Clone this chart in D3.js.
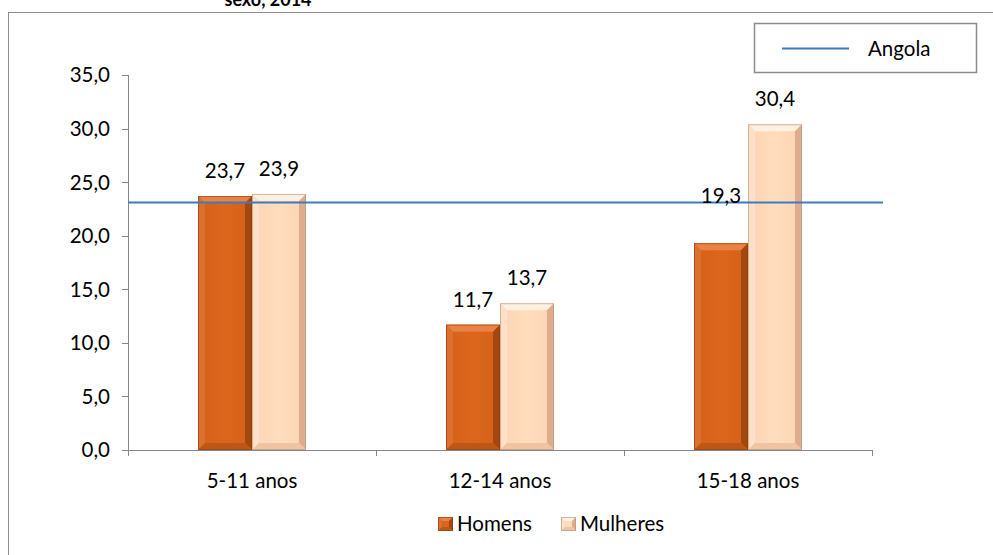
<!DOCTYPE html>
<html><head><meta charset="utf-8">
<script src="https://cdn.jsdelivr.net/npm/d3@7"></script>
<style>
html,body{margin:0;padding:0;background:#fff;}
svg{display:block;font-family:Lato,"Open Sans",sans-serif;}
</style></head>
<body><svg id="c" width="993" height="555"></svg>
<script>
const categories = ["5-11 anos", "12-14 anos", "15-18 anos"];
const seriesNames = ["Homens", "Mulheres"];
const homens = [23.7, 11.7, 19.3];
const mulheres = [23.9, 13.7, 30.4];
const angola = 23.1;
const yTicks = [0, 5, 10, 15, 20, 25, 30, 35];
const titleText = "sexo, 2014";
const lineLabel = "Angola";

const svg = d3.select("#c");
const W = 993, H = 555;
const m = {left:128, right:872, top:75, bottom:450};
const FS = 20.5;

const fmt = v => d3.format(".1f")(v).replace(".", ",");

// outer border
svg.append("rect").attr("x",8.5).attr("y",12.5).attr("width",W).attr("height",H)
  .attr("fill","#fff").attr("stroke","#8c8c8c").attr("stroke-width",1);

// title (only last line visible, cut by the top edge as in the source)
svg.append("text").attr("x",268).attr("y",6).attr("text-anchor","middle")
  .attr("font-weight","bold").attr("font-size",18).text(titleText);

const x0 = d3.scaleBand().domain(categories).range([m.left, m.right]).padding(0);
const y = d3.scaleLinear().domain([0,35]).range([m.bottom, m.top]);

const defs = svg.append("defs");
const styles = {
  Homens:  {main:"#d3621b", top:"#e98244", left:"#dc7031", right:"#a6470f", bottom:"#bd5715", edge:"#8f3c0c"},
  Mulheres:{main:"#fcd4b4", top:"#fff0e0", left:"#fde0c8", right:"#dcae8f", bottom:"#efc4a3", edge:"#b78e74"}
};
Object.entries(styles).forEach(([k,s])=>{
  const g = defs.append("linearGradient").attr("id","g"+k).attr("x1","0").attr("x2","1").attr("y1","0").attr("y2","0");
  g.append("stop").attr("offset","0").attr("stop-color",s.main);
  g.append("stop").attr("offset","0.5").attr("stop-color",d3.color(s.main).brighter(0.12));
  g.append("stop").attr("offset","1").attr("stop-color",s.main);
});

function bevelBar(g, x, yTop, w, h, s, name, bev) {
  const b = Math.min(bev, w/2, h/2);
  const x2 = x + w, y2 = yTop + h;
  g.append("rect").attr("x",x).attr("y",yTop).attr("width",w).attr("height",h).attr("fill","url(#g"+name+")");
  const poly = (pts, fill) => g.append("polygon").attr("points", pts.map(p=>p.join(",")).join(" ")).attr("fill", fill);
  poly([[x,yTop],[x2,yTop],[x2-b,yTop+b],[x+b,yTop+b]], s.top);
  poly([[x,yTop],[x+b,yTop+b],[x+b,y2-b],[x,y2]], s.left);
  poly([[x2,yTop],[x2,y2],[x2-b,y2-b],[x2-b,yTop+b]], s.right);
  poly([[x,y2],[x+b,y2-b],[x2-b,y2-b],[x2,y2]], s.bottom);
  g.append("rect").attr("x",x+0.5).attr("y",yTop+0.5).attr("width",w-1).attr("height",Math.max(0,h-1))
    .attr("fill","none").attr("stroke",s.edge).attr("stroke-width",1).attr("stroke-opacity",0.6);
}

// axes
const axisColor = "#868686";
const yAxis = svg.append("g");
yAxis.append("line").attr("x1",m.left+0.5).attr("x2",m.left+0.5).attr("y1",y(35)).attr("y2",y(0)).attr("stroke",axisColor);
yTicks.forEach(t=>{
  yAxis.append("line").attr("x1",m.left-6).attr("x2",m.left).attr("y1",Math.round(y(t))+0.5).attr("y2",Math.round(y(t))+0.5).attr("stroke",axisColor);
  yAxis.append("text").attr("x",m.left-18).attr("y",y(t)).attr("dy","0.36em").attr("text-anchor","end")
    .attr("font-size",FS).attr("fill","#000").text(fmt(t));
});

// bars
const barW = x0.bandwidth()*0.2177;
const vals = {Homens: homens, Mulheres: mulheres};
const barsG = svg.append("g");
categories.forEach((c,i)=>{
  const cx = x0(c) + x0.bandwidth()/2;
  seriesNames.forEach((sName, j)=>{
    const v = vals[sName][i];
    const bx = cx - barW + j*barW;
    bevelBar(barsG, bx, y(v), barW, y(0)-y(v), styles[sName], sName, 7);
  });
});

// x axis
const xAxis = svg.append("g");
xAxis.append("line").attr("x1",m.left).attr("x2",m.right).attr("y1",y(0)+0.5).attr("y2",y(0)+0.5).attr("stroke",axisColor);
const bounds = categories.map(c=>x0(c)).concat([m.right]);
bounds.forEach(b=>{
  xAxis.append("line").attr("x1",Math.round(b)+0.5).attr("x2",Math.round(b)+0.5).attr("y1",y(0)).attr("y2",y(0)+6).attr("stroke",axisColor);
});
categories.forEach(c=>{
  xAxis.append("text").attr("x",x0(c)+x0.bandwidth()/2).attr("y",488).attr("text-anchor","middle")
    .attr("font-size",FS).attr("fill","#000").text(c);
});

// Angola line
svg.append("line").attr("x1",m.left).attr("x2",m.right+11).attr("y1",y(angola)).attr("y2",y(angola))
  .attr("stroke","#3a7cc0").attr("stroke-width",2);

// data labels
const labelNudge = {"15-18 anos|Homens": -22};
categories.forEach((c,i)=>{
  const cx = x0(c) + x0.bandwidth()/2;
  seriesNames.forEach((sName, j)=>{
    const v = vals[sName][i];
    const lx = cx - barW/2 + j*barW;
    const nudge = labelNudge[c+"|"+sName] || 0;
    svg.append("text").attr("x",lx).attr("y",y(v)-18+nudge).attr("text-anchor","middle")
      .attr("font-size",FS).attr("fill","#000").text(fmt(v));
  });
});

// top-right legend box
const lg = svg.append("g");
lg.append("rect").attr("x",754.5).attr("y",23.5).attr("width",222).attr("height",49)
  .attr("fill","#fff").attr("stroke","#8c8c8c").attr("stroke-width",1.5);
lg.append("line").attr("x1",782).attr("x2",849).attr("y1",48.5).attr("y2",48.5).attr("stroke","#3a7cc0").attr("stroke-width",2);
lg.append("text").attr("x",868).attr("y",56).attr("font-size",FS).attr("fill","#000").text(lineLabel);

// bottom legend
const bl = svg.append("g");
const legendItems = [{name:"Homens", x:438, tx:457}, {name:"Mulheres", x:561, tx:580}];
legendItems.forEach(it=>{
  bevelBar(bl, it.x, 517, 15, 14, styles[it.name], it.name, 4);
  bl.append("text").attr("x",it.tx).attr("y",531).attr("font-size",FS).attr("fill","#000").text(it.name);
});
</script></body></html>
